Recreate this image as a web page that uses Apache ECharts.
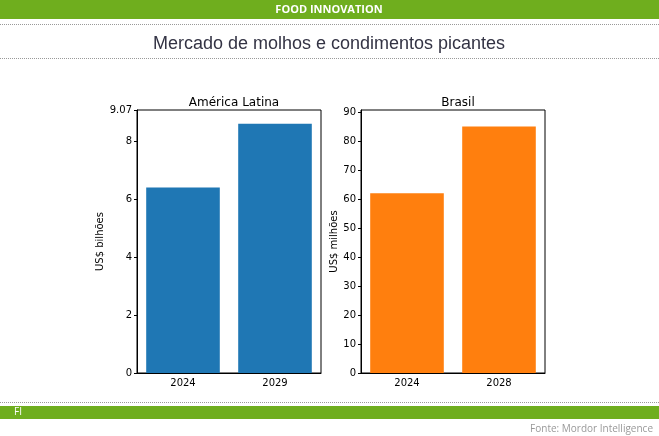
<!DOCTYPE html>
<html><head><meta charset="utf-8">
<script src="https://cdn.jsdelivr.net/npm/echarts@6/dist/echarts.min.js"></script>
<style>body{margin:0}#c{width:659px;height:436px}</style></head>
<body><div id="c"></div>
<script>
const latamYears = ['2024', '2029'];
const latamValues = [6.4, 8.6];
const brYears = ['2024', '2028'];
const brValues = [62, 85];

const chart = echarts.init(document.getElementById('c'));
const tickFont = { color: '#000', fontSize: 10, fontFamily: 'DejaVu Sans' };
const dotted = (y) => ({ type: 'line', shape: { x1: 0, y1: y, x2: 659, y2: y },
  style: { stroke: '#999', lineDash: [1, 1], lineWidth: 1 } });

function yAxis(idx, max, interval, name) {
  return { gridIndex: idx, type: 'value', min: 0, max: max, interval: interval,
    name: name, nameLocation: 'middle', nameGap: 22,
    nameTextStyle: { color: '#000', fontSize: 10, fontFamily: 'DejaVu Sans' },
    axisLine: { show: true, lineStyle: { color: '#000' } },
    axisTick: { show: true, length: 3, lineStyle: { color: '#000' } },
    axisLabel: Object.assign({ margin: 5 }, tickFont), splitLine: { show: false } };
}
function xAxis(idx, data) {
  return { gridIndex: idx, type: 'category', data: data,
    axisLine: { lineStyle: { color: '#000' } },
    axisTick: { alignWithLabel: true, length: 3, lineStyle: { color: '#000' } },
    axisLabel: Object.assign({ margin: 5 }, tickFont) };
}

chart.setOption({
  animation: false,
  backgroundColor: '#fff',
  title: [
    { text: 'América Latina', left: 229, top: 92, textAlign: 'center',
      textStyle: { fontSize: 12, fontWeight: 'normal', color: '#000', fontFamily: 'DejaVu Sans' } },
    { text: 'Brasil', left: 453, top: 92, textAlign: 'center',
      textStyle: { fontSize: 12, fontWeight: 'normal', color: '#000', fontFamily: 'DejaVu Sans' } }
  ],
  grid: [
    { left: 137, width: 184, top: 110, height: 263, show: true, borderColor: '#000', borderWidth: 1 },
    { left: 361, width: 184, top: 110, height: 263, show: true, borderColor: '#000', borderWidth: 1 }
  ],
  xAxis: [xAxis(0, latamYears), xAxis(1, brYears)],
  yAxis: [yAxis(0, 9.07, 2, 'US$ bilhões'), yAxis(1, 90.7, 10, 'US$ milhões')],
  series: [
    { type: 'bar', xAxisIndex: 0, yAxisIndex: 0, data: latamValues, barWidth: '80%',
      itemStyle: { color: '#1f77b4' } },
    { type: 'bar', xAxisIndex: 1, yAxisIndex: 1, data: brValues, barWidth: '80%',
      itemStyle: { color: '#ff7f0e' } }
  ],
  graphic: [
    { type: 'rect', shape: { x: 0, y: 0, width: 659, height: 19 }, style: { fill: '#6fae1e' } },
    { type: 'text', x: 329, y: 10, style: { text: 'FOOD INNOVATION', fill: '#fff', fontSize: 11,
      fontWeight: 'bold', fontFamily: 'Open Sans', align: 'center', verticalAlign: 'middle' } },
    dotted(24.5),
    { type: 'text', x: 329, y: 44, style: { text: 'Mercado de molhos e condimentos picantes', fill: '#333344',
      fontSize: 18, fontFamily: 'Liberation Sans', align: 'center', verticalAlign: 'middle' } },
    dotted(58.5),
    dotted(402.5),
    { type: 'rect', shape: { x: 0, y: 406, width: 659, height: 13 }, style: { fill: '#6fae1e' } },
    { type: 'text', x: 14, y: 412.5, style: { text: 'FI', fill: '#fff', fontSize: 10,
      fontFamily: 'Open Sans', verticalAlign: 'middle' } },
    { type: 'text', x: 653, y: 429, style: { text: 'Fonte: Mordor Intelligence', fill: '#999',
      fontSize: 10, fontFamily: 'Open Sans', align: 'right', verticalAlign: 'middle' } }
  ]
});
</script></body></html>
